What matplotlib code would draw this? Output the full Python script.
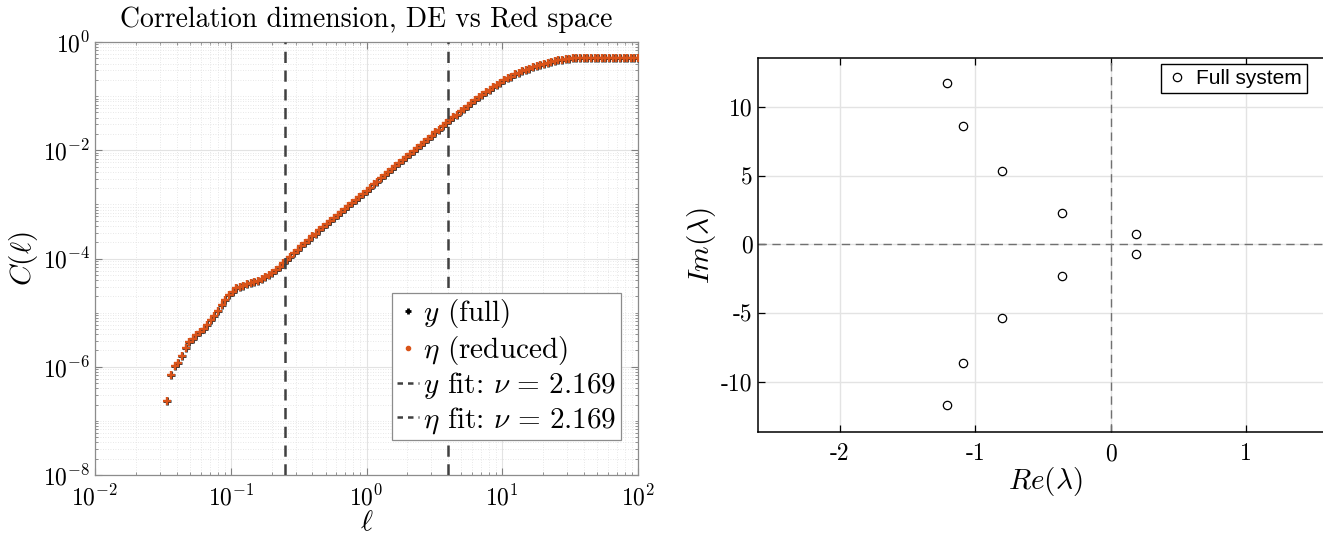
# -*- coding: utf-8 -*-
"""
Correlation sum C(l) of the full and reduced trajectories (log-log),
next to the eigenvalues of the full system in the complex plane.
"""

import numpy as np
import matplotlib
matplotlib.use("Agg")
import matplotlib.pyplot as plt
from matplotlib.lines import Line2D
from matplotlib.ticker import LogLocator, NullFormatter, FixedLocator

plt.rcParams['font.family'] = ['serif']
plt.rcParams['font.serif'] = ['cmr10', 'DejaVu Serif']
plt.rcParams['mathtext.fontset'] = 'cm'
plt.rcParams['axes.unicode_minus'] = False
plt.rcParams['axes.formatter.use_mathtext'] = True

# Length scales: logarithmic grid 10^-2..10^2 (151 samples), first 20 give C = 0
ell = np.logspace(-2, 2, 151)[20:]

# log10 C(l) for the full state y
logc_full = [-6.63, -6.15, -5.98, -5.93, -5.80, -5.66, -5.55, -5.48, -5.42, -5.36,
             -5.30, -5.22, -5.14, -5.07, -4.97, -4.86, -4.76, -4.68, -4.61, -4.55,
             -4.52, -4.50, -4.48, -4.46, -4.44, -4.41, -4.38, -4.35, -4.31, -4.27,
             -4.22, -4.16, -4.09, -4.03, -3.97, -3.90, -3.84, -3.77, -3.71,
             -3.65, -3.59, -3.54, -3.48, -3.42, -3.37, -3.31, -3.25, -3.20, -3.14,
             -3.09, -3.03, -2.97, -2.92, -2.86, -2.80, -2.75, -2.69, -2.63, -2.58,
             -2.52, -2.46, -2.41, -2.35, -2.29, -2.24, -2.18, -2.12, -2.07, -2.01,
             -1.96, -1.90, -1.84, -1.79, -1.73, -1.67, -1.62, -1.56, -1.50, -1.45,
             -1.39, -1.34, -1.28, -1.23, -1.18, -1.12, -1.07, -1.02, -0.97, -0.93,
             -0.88, -0.83, -0.79, -0.75, -0.71,
             -0.67, -0.64, -0.60, -0.57, -0.54, -0.51, -0.49, -0.46, -0.44, -0.42,
             -0.40, -0.38, -0.37, -0.35, -0.34, -0.33, -0.32, -0.31, -0.30, -0.30,
             -0.30, -0.30,
             -0.30, -0.30, -0.30, -0.30, -0.30, -0.30, -0.30, -0.30, -0.30, -0.30,
             -0.30, -0.30, -0.30, -0.30, -0.30]
# reduced state eta lies on top of the full one
logc_reduced = list(logc_full)

fit_range = [0.25, 4.0]
nu_full = 2.169
nu_reduced = 2.169

# eigenvalues of the full system
eig_re = [-1.21, -1.21, -1.09, -1.09, -0.80, -0.80, -0.36, -0.36, 0.19, 0.19]
eig_im = [11.7, -11.7, 8.6, -8.6, 5.35, -5.35, 2.3, -2.3, 0.72, -0.72]

orange = '#D95319'
W, H = 1323, 540
fig = plt.figure(figsize=(W / 100, H / 100), dpi=100)

# ---- left: correlation dimension ----
ax1 = fig.add_axes([95 / W, 1 - 475 / H, 543 / W, 433 / H])
c_full = 10 ** np.array(logc_full)
c_red = 10 ** np.array(logc_reduced)
ax1.plot(ell, c_full, '+', color='#262626', ms=6, mew=2.0, zorder=3)
ax1.plot(ell, c_red, '+', color=orange, ms=5.5, mew=1.7, zorder=4)
for x in fit_range:
    ax1.axvline(x, color='#404040', lw=1.8, ls=(0, (4.5, 3)), zorder=5)

ax1.set_xscale('log')
ax1.set_yscale('log')
ax1.set_xlim(1e-2, 1e2)
ax1.set_ylim(1e-8, 1e0)
ax1.xaxis.set_major_locator(FixedLocator([1e-2, 1e-1, 1e0, 1e1, 1e2]))
ax1.yaxis.set_major_locator(FixedLocator([1e-8, 1e-6, 1e-4, 1e-2, 1e0]))
ax1.xaxis.set_minor_locator(LogLocator(base=10, subs=np.arange(2, 10), numticks=20))
ax1.yaxis.set_minor_locator(LogLocator(base=10, subs=np.arange(1, 10), numticks=40))
ax1.xaxis.set_minor_formatter(NullFormatter())
ax1.yaxis.set_minor_formatter(NullFormatter())
ax1.grid(True, which='major', color='#e3e3e3', lw=0.8)
ax1.grid(True, which='minor', color='#e0e0e0', lw=0.6, ls=(0, (1, 2)))
ax1.tick_params(which='both', direction='in', top=True, right=True,
                color='#808080', labelsize=17)
ax1.tick_params(axis='x', pad=7)
ax1.tick_params(which='major', length=5)
ax1.tick_params(which='minor', length=2.5)
for s in ax1.spines.values():
    s.set_color('#8c8c8c')
    s.set_linewidth(0.9)
ax1.set_title('Correlation dimension, DE vs Red space', fontsize=20, pad=11)
ax1.set_xlabel(r'$\ell$', fontsize=21, labelpad=0)
ax1.set_ylabel(r'$C(\ell)$', fontsize=21, labelpad=2)

handles = [
    Line2D([], [], ls='none', marker='+', color='black', ms=5, mew=2),
    Line2D([], [], ls='none', marker='.', color=orange, ms=6),
    Line2D([], [], color='#404040', lw=1.8, ls=(0, (2.2, 2))),
    Line2D([], [], color='#404040', lw=1.8, ls=(0, (2.2, 2))),
]
labels = [r'$y$ (full)', r'$\eta$ (reduced)',
          r'$y$ fit: $\nu\,=\,%.3f$' % nu_full,
          r'$\eta$ fit: $\nu\,=\,%.3f$' % nu_reduced]
leg1 = ax1.legend(handles, labels, loc='lower right',
                  bbox_to_anchor=(0.968, 0.081), fontsize=21,
                  handlelength=0.75, handletextpad=0.15, borderpad=0.15,
                  labelspacing=0.12, borderaxespad=0, fancybox=False,
                  framealpha=1)
leg1.get_frame().set_edgecolor('#8c8c8c')
leg1.get_frame().set_linewidth(0.9)

# ---- right: spectrum ----
ax2 = fig.add_axes([757.6 / W, 1 - 432 / H, 575 / W, 374 / H])
ax2.axhline(0, color='#707070', lw=1.0, ls=(0, (6, 4)), zorder=2)
ax2.axvline(0, color='#707070', lw=1.0, ls=(0, (6, 4)), zorder=2)
ax2.plot(eig_re, eig_im, 'o', mfc='none', mec='black', ms=6, mew=0.9,
         ls='none', zorder=3, label='Full system')
ax2.set_xlim(-2.607, 1.64)
ax2.set_ylim(-13.65, 13.55)
ax2.set_xticks([-2, -1, 0, 1])
ax2.set_yticks([-10, -5, 0, 5, 10])
ax2.set_xticklabels(['-2', '-1', '0', '1'])
ax2.set_yticklabels(['-10', '-5', '0', '5', '10'])
ax2.grid(True, color='#e3e3e3', lw=1.0)
ax2.tick_params(direction='in', top=True, right=True, length=5,
                labelsize=17, width=0.9)
ax2.tick_params(axis='x', pad=8)
for s in ax2.spines.values():
    s.set_linewidth(1.1)
ax2.set_xlabel(r'$Re(\lambda)$', fontsize=21, labelpad=0)
ax2.set_ylabel(r'$Im(\lambda)$', fontsize=21, labelpad=2)
leg2 = ax2.legend(loc='upper right', bbox_to_anchor=(0.955, 0.985),
                  prop={'family': 'Liberation Sans', 'size': 15},
                  handlelength=1.0, handletextpad=0.4, borderpad=0.25,
                  borderaxespad=0, fancybox=False, framealpha=1)
leg2.get_frame().set_edgecolor('black')
leg2.get_frame().set_linewidth(1.0)

fig.savefig('out.png', dpi=100)
